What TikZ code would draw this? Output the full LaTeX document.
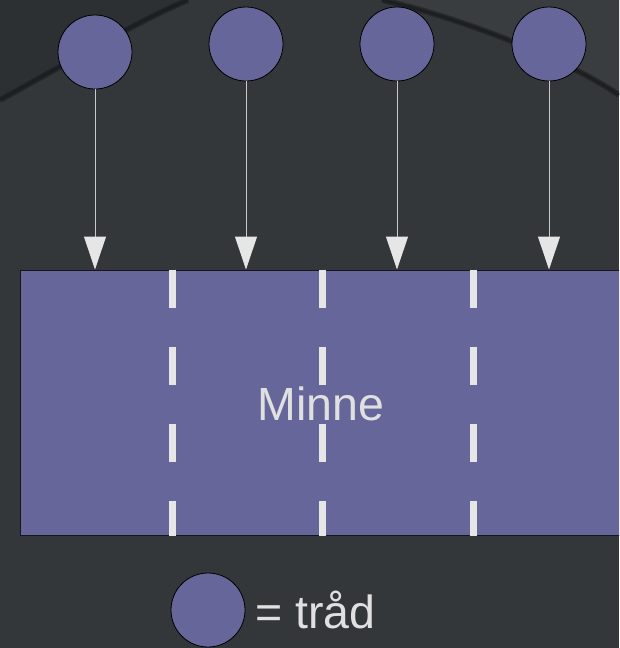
\documentclass[tikz,border=0pt]{standalone}
\usepackage{fontspec}
\setmainfont{Liberation Sans}
\usetikzlibrary{arrows.meta}
\definecolor{bg}{HTML}{33373A}
\definecolor{bgdark}{HTML}{2C3033}
\definecolor{bglight}{HTML}{393D40}
\definecolor{bgcurve}{HTML}{1A1C1E}
\definecolor{thr}{HTML}{67669A}
\definecolor{tipc}{HTML}{E6E6E6}
\definecolor{linec}{HTML}{C8C8C8}
\definecolor{txt}{HTML}{E0E0E0}
\tikzset{
  thread/.style={circle, draw=black, line width=0.8pt, fill=thr, minimum size=74pt, inner sep=0pt},
  membox/.style={draw=black!80!thr, line width=1pt, fill=thr, minimum width=600pt, minimum height=265pt, inner sep=0pt},
  flow/.style={draw=linec, line width=1pt, -{Triangle[width=22pt,length=33pt,fill=tipc,color=tipc]}},
  sep/.style={draw=tipc, line width=7pt, dash pattern=on 38pt off 39pt},
  lbl/.style={text=txt, font=\fontsize{46.5}{50}\selectfont, inner sep=0pt},
  bgline/.style={draw=bgcurve, line width=#1, opacity=0.5}
}
\begin{document}
\begin{tikzpicture}[x=1pt,y=-1pt]
\useasboundingbox (0,0) rectangle (619,648);
\clip (0,0) rectangle (619,648);
\fill[bg] (0,0) rectangle (619,648);
\fill[bgdark] (0,0) -- (0,100) .. controls (70,62) and (130,25) .. (188,0) -- cycle;
\fill[bglight] (382,0) .. controls (450,15) and (560,55) .. (619,95) -- (619,0) -- cycle;
\foreach \w in {6pt,3.5pt,2pt}{
  \draw[bgline=\w] (0,100) .. controls (70,62) and (130,25) .. (188,0);
  \draw[bgline=\w] (382,0) .. controls (450,15) and (560,55) .. (619,95);
}
% threads
\node[thread] (t1) at (95,52) {};
\node[thread] (t2) at (246,44) {};
\node[thread] (t3) at (397,44) {};
\node[thread] (t4) at (549,44) {};
% memory
\node[membox] (mem) at (320,402.5) {};
\node[lbl] (minne) at (321,404) {Minne};
% separators
\coordinate (s1) at (172,0);
\coordinate (s2) at (322,0);
\coordinate (s3) at (473,0);
\foreach \s in {s1,s2,s3}
  \draw[sep] (\s |- mem.north) -- (\s |- mem.south);
% arrows
\foreach \t in {t1,t2,t3,t4}
  \draw[flow] (\t.south) -- (\t |- mem.north);
% legend
\node[thread] (lt) at (208,610) {};
\node[lbl, anchor=base west] (ltxt) at (255,628) {= tråd};
\end{tikzpicture}
\end{document}
